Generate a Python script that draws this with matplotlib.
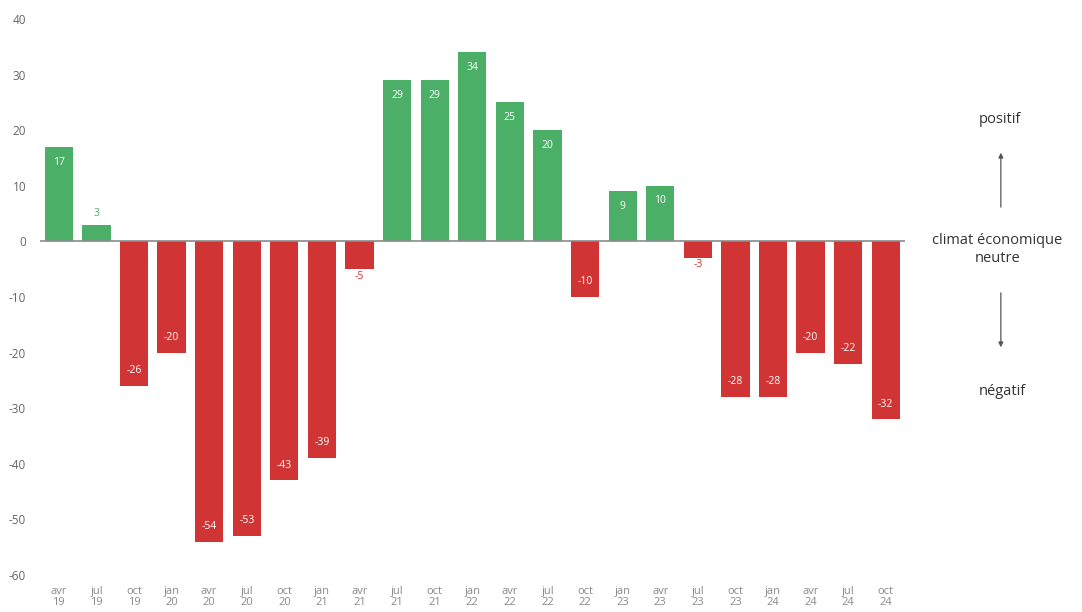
import matplotlib.pyplot as plt

# trimestres et solde d'opinion
trimestres = ["avr\n19", "jul\n19", "oct\n19", "jan\n20", "avr\n20", "jul\n20", "oct\n20", "jan\n21",
              "avr\n21", "jul\n21", "oct\n21", "jan\n22", "avr\n22", "jul\n22", "oct\n22", "jan\n23",
              "avr\n23", "jul\n23", "oct\n23", "jan\n24", "avr\n24", "jul\n24", "oct\n24"]
valeurs = [17, 3, -26, -20, -54, -53, -43, -39, -5, 29, 29, 34, 25, 20, -10, 9, 10, -3, -28, -28, -20, -22, -32]

vert = "#4caf67"
rouge = "#d13434"

plt.rcParams['font.family'] = ['Open Sans', 'DejaVu Sans']
plt.rcParams['axes.unicode_minus'] = False

fig = plt.figure(figsize=(10.82, 6.12), dpi=100)
ax = fig.add_axes([0.037, 0.0605, 0.799, 0.9085])

x = range(len(valeurs))
couleurs = [vert if v > 0 else rouge for v in valeurs]
ax.bar(x, valeurs, width=0.75, color=couleurs)
ax.axhline(0, color="#8a8a8a", lw=1.2)

# etiquettes des valeurs
for i, v in enumerate(valeurs):
    c = couleurs[i]
    if abs(v) < 6:
        if v > 0:
            ax.annotate(str(v), (i, v), xytext=(0, 4), textcoords="offset points",
                        ha="center", va="bottom", fontsize=7.5, color=c)
        else:
            ax.annotate(str(v), (i, v), xytext=(0, -1), textcoords="offset points",
                        ha="center", va="top", fontsize=7.5, color=c)
    elif v > 0:
        ax.annotate(str(v), (i, v), xytext=(0, -7), textcoords="offset points",
                    ha="center", va="top", fontsize=7.5, color="white")
    else:
        ax.annotate(str(v), (i, v), xytext=(0, 7), textcoords="offset points",
                    ha="center", va="bottom", fontsize=7.5, color="white")

ax.set_xlim(-0.5, 22.5)
ax.set_ylim(-60, 40)
ax.set_yticks(range(-60, 41, 10))
ax.set_xticks(list(x))
ax.set_xticklabels(trimestres, fontsize=8, color="#8a8a8a", linespacing=1.05)
ax.tick_params(axis="y", labelsize=8.5, colors="#666666", length=0, pad=10)
ax.tick_params(axis="x", length=0, pad=8)
for s in ax.spines.values():
    s.set_visible(False)

# legende a droite
fig.text(0.924, 0.804, "positif", ha="center", va="center", fontsize=10.5, color="#333333")
fig.text(0.922, 0.592, "climat économique\nneutre", ha="center", va="center", fontsize=10.5,
         color="#333333", linespacing=1.3)
fig.text(0.926, 0.361, "négatif", ha="center", va="center", fontsize=10.5, color="#333333")
ax.annotate("", xy=(0.925, 0.755), xytext=(0.925, 0.657), xycoords="figure fraction",
            arrowprops=dict(arrowstyle="-|>", color="#555555", lw=0.9, mutation_scale=7))
ax.annotate("", xy=(0.925, 0.428), xytext=(0.925, 0.526), xycoords="figure fraction",
            arrowprops=dict(arrowstyle="-|>", color="#555555", lw=0.9, mutation_scale=7))

fig.savefig("out.png", dpi=100)
